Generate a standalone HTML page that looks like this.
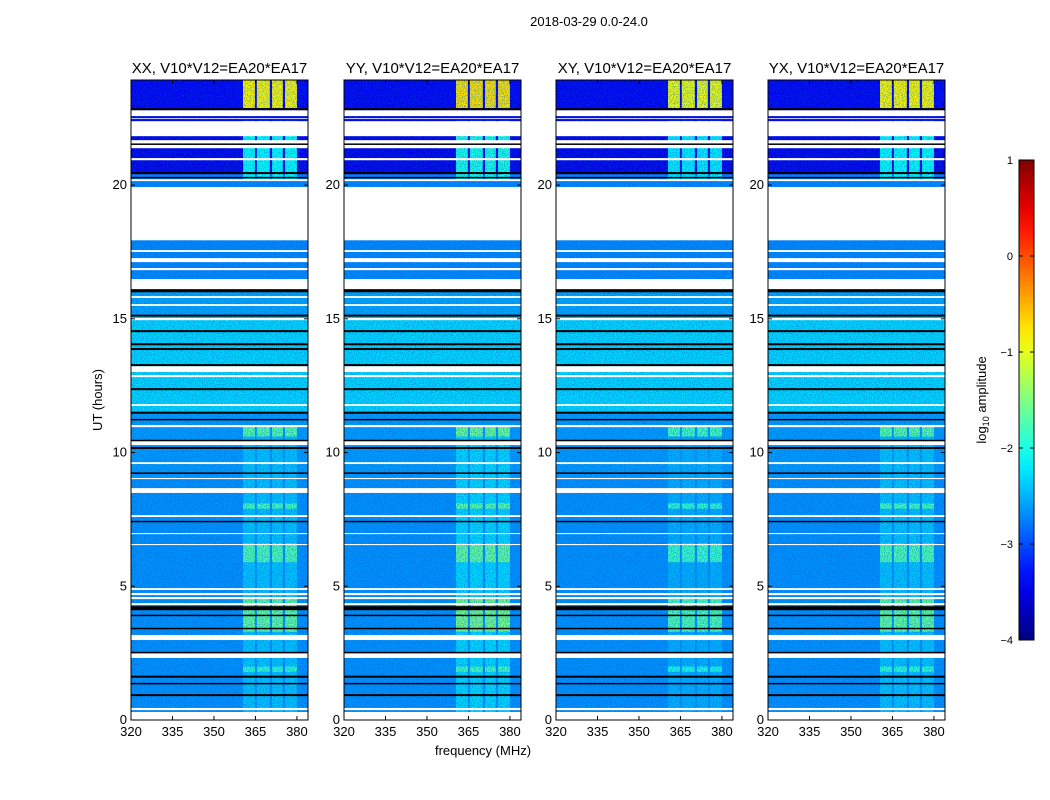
<!DOCTYPE html>
<html><head><meta charset="utf-8"><style>
html,body{margin:0;padding:0;background:#fff;width:1050px;height:800px;overflow:hidden}
svg text{font-family:"Liberation Sans",sans-serif;fill:#000}
</style></head><body>
<svg id="fig" width="1050" height="800" xmlns="http://www.w3.org/2000/svg">
<defs><linearGradient id="cbgrad" x1="0" y1="1" x2="0" y2="0"></linearGradient>
<filter id="speckle" x="0" y="0" width="100%" height="100%">
<feTurbulence type="fractalNoise" baseFrequency="0.9" numOctaves="1" seed="3"/>
<feColorMatrix type="matrix" values="0 0 0 0 0  0 0 0 0 0.1  0 0 0 0 0.6  3 0 0 0 -1.2"/>
</filter></defs>
<text x="589" y="26" font-size="13" text-anchor="middle">2018-03-29 0.0-24.0</text>
<text x="483" y="755" font-size="13" text-anchor="middle">frequency (MHz)</text>
<text transform="translate(102,400) rotate(-90)" font-size="13" text-anchor="middle">UT (hours)</text>
<g id="panels"></g>
<g id="cbar"></g>
<text transform="translate(986,400) rotate(-90)" font-size="13" text-anchor="middle">log<tspan font-size="9" dy="3">10</tspan><tspan dy="-3"> amplitude</tspan></text>
</svg>
<script>
// ---- data ----
const panelTitles = ["XX, V10*V12=EA20*EA17","YY, V10*V12=EA20*EA17","XY, V10*V12=EA20*EA17","YX, V10*V12=EA20*EA17"];
const panelRfiOffset = [0, 0.1, -0.1, 0.0];
const xTicks = [320,335,350,365,380];
const yTicks = [0,5,10,15,20];
const cbTicks = [1,0,-1,-2,-3,-4];
// background bands: start hour, end hour, log10 amplitude
const bandStart = [22.88,20.40,19.93,16.11,15.10,11.5,9.0,4.93,0];
const bandEnd   = [23.93,22.88,20.40,17.94,16.11,15.10,11.5,9.0,4.93];
const bandLevel = [-3.45,-3.5,-2.7,-2.7,-2.55,-2.3,-2.6,-2.65,-2.65];
// RFI channels (MHz)
const rfiChanStart = [360.5,365.5,371.0,375.7];
const rfiChanEnd   = [364.8,370.2,374.9,380.0];
// RFI time segments: start hour, end hour, level
const rfiSegStart = [0,22.88,20.2,10.6,7.9,5.9,3.3,1.8];
const rfiSegEnd   = [11.0,23.93,22.4,11.0,8.1,6.6,4.6,2.0];
const rfiSegLevel = [-2.4,-0.85,-2.1,-1.7,-1.8,-1.75,-1.65,-1.9];
// flagged (white) gaps
const gapStart = [22.58,22.47,21.83,21.38,20.93,20.15,17.94,17.50,17.12,16.82,16.11,15.78,15.48,14.95,13.01,12.82,11.74,10.95,10.28,9.57,9.01,8.49,7.59,6.95,6.54,4.86,4.67,4.52,4.30,2.99,2.32,0.37,0];
const gapEnd   = [22.80,22.50,22.39,21.68,21.01,20.22,19.93,17.57,17.27,16.90,16.49,15.85,15.55,15.03,13.23,12.90,11.81,11.03,10.43,9.64,9.05,8.67,7.66,6.99,6.58,4.93,4.75,4.60,4.37,3.18,2.50,0.45,0.30];
// black separator lines (hours) and widths
const blackLines = [22.84,21.53,20.45,20.28,16.05,15.12,14.54,14.05,13.87,13.27,12.37,11.49,11.23,10.45,10.17,9.23,7.42,4.18,3.91,3.42,2.52,1.62,1.36,0.93];
const blackWidth = [2,1.5,2,1.5,3,2,2,2,2,2,2,2,1.5,1.5,2,1.5,1.5,4,1.5,1.5,1.5,2,1.5,2];

// ---- helpers ----
const NS="http://www.w3.org/2000/svg";
const panelX=[131,344,556,768], PW=177, PT=80, PB=720;
const hMin=0,hMax=23.93, fMin=320, fMax=384;
function yS(h){return PB-(h-hMin)*(PB-PT)/(hMax-hMin);}
function xS(px,f){return px+(f-fMin)*PW/(fMax-fMin);}
function cl(v){return Math.max(0,Math.min(1,v));}
function jet(lv){const v=cl((lv+4)/5);
 const r=cl(1.5-Math.abs(4*v-3)),g=cl(1.5-Math.abs(4*v-2)),b=cl(1.5-Math.abs(4*v-1));
 return `rgb(${Math.round(r*255)},${Math.round(g*255)},${Math.round(b*255)})`;}
function mk(tag,attrs,parent){const e=document.createElementNS(NS,tag);for(const k in attrs)e.setAttribute(k,attrs[k]);parent.appendChild(e);return e;}

const panels=document.getElementById('panels');
panelX.forEach((px,pi)=>{
 const g=mk('g',{},panels);
 
 
 for(let i=0;i<bandStart.length;i++){
  const r=mk('rect',{x:px,y:yS(bandEnd[i]),width:PW,height:yS(bandStart[i])-yS(bandEnd[i]),fill:jet(bandLevel[i])},g);
  
  
 }
 for(let s=0;s<rfiSegStart.length;s++){
  for(let c=0;c<rfiChanStart.length;c++){
   const x0=xS(px,rfiChanStart[c]),x1=xS(px,rfiChanEnd[c]);
   const r=mk('rect',{x:x0,y:yS(rfiSegEnd[s]),width:x1-x0,height:yS(rfiSegStart[s])-yS(rfiSegEnd[s]),fill:jet(rfiSegLevel[s]+panelRfiOffset[pi])},g);
   
   
  }
 }
 const sp=mk('rect',{x:px,y:PT,width:PW,height:PB-PT,filter:'url(#speckle)',opacity:0.55},g);
 
 
 for(let i=0;i<gapStart.length;i++){
  const r=mk('rect',{x:px,y:yS(gapEnd[i]),width:PW,height:yS(gapStart[i])-yS(gapEnd[i]),fill:'#fff'},g);
  
  
 }
 for(let i=0;i<blackLines.length;i++){
  const r=mk('rect',{x:px,y:yS(blackLines[i])-blackWidth[i]/2,width:PW,height:blackWidth[i],fill:'#000'},g);
  
  
 }
 const fr=mk('rect',{x:px,y:PT,width:PW,height:PB-PT,fill:'none',stroke:'#000','stroke-width':1},g);
 
 
 const t=mk('text',{x:px+PW/2,y:73,'font-size':15,'text-anchor':'middle'},g);
 t.textContent=panelTitles[pi];
 
 
 xTicks.forEach(f=>{const x=xS(px,f);
  mk('line',{x1:x,x2:x,y1:PB,y2:PB-4,stroke:'#000'},g);mk('line',{x1:x,x2:x,y1:PT,y2:PT+4,stroke:'#000'},g);
  const l=mk('text',{x:x,y:PB+16,'font-size':13,'text-anchor':'middle'},g);l.textContent=f;
  
  });
 yTicks.forEach(h=>{const y=yS(h);
  mk('line',{x1:px,x2:px+4,y1:y,y2:y,stroke:'#000'},g);mk('line',{x1:px+PW,x2:px+PW-4,y1:y,y2:y,stroke:'#000'},g);
  const l=mk('text',{x:px-4,y:y+4,'font-size':13,'text-anchor':'end'},g);l.textContent=h;
  
  });
});

// colorbar
const grad=document.getElementById('cbgrad');
for(let i=0;i<=20;i++){const lv=-4+5*i/20;mk('stop',{offset:(i/20),'stop-color':jet(lv)},grad);}
const cb=document.getElementById('cbar');
const CBX=1019,CBW=15,CBT=160,CBB=640;
mk('rect',{x:CBX,y:CBT,width:CBW,height:CBB-CBT,fill:'url(#cbgrad)',stroke:'#000','stroke-width':1},cb);
cbTicks.forEach(v=>{const y=CBB-(v+4)*(CBB-CBT)/5;
 mk('line',{x1:CBX,x2:CBX+4,y1:y,y2:y,stroke:'#000'},cb);mk('line',{x1:CBX+CBW,x2:CBX+CBW-4,y1:y,y2:y,stroke:'#000'},cb);
 const l=mk('text',{x:CBX-6,y:y+4,'font-size':11,'text-anchor':'end'},cb);l.textContent=(v<0?'\u2212'+(-v):v);
 
 });
</script>
</body></html>
